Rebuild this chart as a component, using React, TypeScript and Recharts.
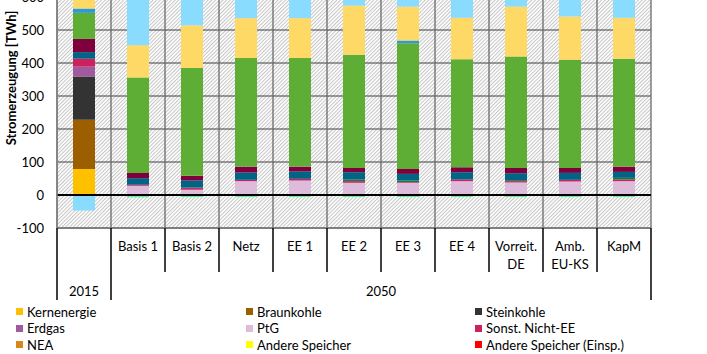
import { BarChart, Bar, XAxis, YAxis, CartesianGrid, ReferenceLine } from "recharts";

// categories (x axis) and the group row underneath
const CATEGORIES = ["", "Basis 1", "Basis 2", "Netz", "EE 1", "EE 2", "EE 3", "EE 4", "Vorreit.\nDE", "Amb.\nEU-KS", "KapM"];
const GROUPS = ["2015", "2050", "2050", "2050", "2050", "2050", "2050", "2050", "2050", "2050", "2050"];
const Y_TICKS = [-100, 0, 100, 200, 300, 400, 500, 600];

// TWh
const KERNENERGIE = [79, 0, 0, 0, 0, 0, 0, 0, 0, 0, 0];
const BRAUNKOHLE = [149, 0, 0, 0, 0, 0, 0, 0, 0, 0, 0];
const STEINKOHLE = [131, 0, 0, 0, 0, 0, 0, 0, 0, 0, 0];
const ERDGAS = [30, 0, 0, 0, 0, 0, 0, 0, 0, 0, 0];
const PTG = [0, 28, 16, 42, 44, 37, 37, 42, 38, 41, 42];
const SONST_NICHT_EE = [24, 3, 5, 4, 5, 5, 2, 5, 4, 5, 5];
const NEA = [0, 0, 0, 0, 0, 0, 0, 0, 0, 0, 0];
const ANDERE_SPEICHER = [0, 0, 0, 0, 0, 0, 0, 0, 0, 0, 0];
const ANDERE_SPEICHER_EINSP = [0, 0, 0, 0, 0, 0, 0, 0, 0, 0, 0];
const PUMPSPEICHER = [0, 0, 2, 0, 0, 5, 5, 0, 3, 0, 5];
const PUMPSPEICHER_EINSP = [0, -7, -6, -6, -6, -6, -6, -6, -6, -6, -6];
const LAUFWASSER = [20, 20, 21, 22, 22, 22, 20, 22, 21, 21, 18];
const BIOMASSE = [40, 16, 14, 18, 15, 13, 15, 15, 16, 15, 16];
const WIND = [79, 289, 327, 329, 329, 343, 381, 327, 338, 328, 327];
const SONST_EE = [13, 0, 0, 0, 0, 0, 8, 0, 0, 0, 0];
const PV = [38, 98, 129, 121, 121, 149, 103, 126, 151, 131, 124];
const NETTOIMPORT = [-47, 170, 110, 90, 90, 50, 50, 90, 50, 80, 90];

const SERIES = [
    { key: "kern", name: "Kernenergie", color: "#FFC000", values: KERNENERGIE },
    { key: "braun", name: "Braunkohle", color: "#9C5F00", values: BRAUNKOHLE },
    { key: "stein", name: "Steinkohle", color: "#333333", values: STEINKOHLE },
    { key: "gas", name: "Erdgas", color: "#A05AA0", values: ERDGAS },
    { key: "ptg", name: "PtG", color: "#DCBCDA", values: PTG },
    { key: "sonstNichtEE", name: "Sonst. Nicht-EE", color: "#CE1F5E", values: SONST_NICHT_EE },
    { key: "nea", name: "NEA", color: "#DB861A", values: NEA },
    { key: "andSp", name: "Andere Speicher", color: "#FFFF00", values: ANDERE_SPEICHER },
    { key: "andSpEinsp", name: "Andere Speicher (Einsp.)", color: "#FF0000", values: ANDERE_SPEICHER_EINSP },
    { key: "pump", name: "Pumpspeicher", color: "#1A7A3A", values: PUMPSPEICHER },
    { key: "pumpEinsp", name: "Pumpspeicher (Einsp.)", color: "#5CF29C", values: PUMPSPEICHER_EINSP },
    { key: "lauf", name: "Laufwasser", color: "#006486", values: LAUFWASSER },
    { key: "bio", name: "Biomasse", color: "#80003E", values: BIOMASSE },
    { key: "wind", name: "Wind", color: "#5EAD35", values: WIND },
    { key: "sonstEE", name: "Sonst. EE", color: "#2C9AD6", values: SONST_EE },
    { key: "pv", name: "PV", color: "#FFD966", values: PV },
    { key: "import", name: "Nettoimport", color: "#8ADCFF", values: NETTOIMPORT },
];

// the picture is cut below the third legend row
const LEGEND_VISIBLE = 9;

const FONT = "Lato, 'Open Sans', sans-serif";
const CHART_W = 707;
const Y_AXIS_W = 57;
const MARGIN_RIGHT = 56;
const PLOT_W = CHART_W - Y_AXIS_W - MARGIN_RIGHT;
const BAND = PLOT_W / CATEGORIES.length;

// group spans for the lower label row
const GROUP_SPANS = GROUPS.reduce((acc: { label: string; start: number; end: number }[], g, i) => {
    const last = acc[acc.length - 1];
    if (last && last.label === g) last.end = i;
    else acc.push({ label: g, start: i, end: i });
    return acc;
}, []);

function CategoryTick(props: any) {
    const { x, y, payload, index } = props;
    const left = x - BAND / 2;
    const lines = String(payload.value).split("\n");
    const groupStarts = GROUP_SPANS.map((s) => s.start);
    const deep = 72;
    const shallow = 44;
    const isLast = index === CATEGORIES.length - 1;
    const span = GROUP_SPANS.find((s) => s.start === index);
    return (
        <g>
            <line x1={left} x2={left} y1={y} y2={y + (groupStarts.includes(index) ? deep : shallow)} stroke="#000" strokeWidth={1.5} />
            {isLast && <line x1={left + BAND} x2={left + BAND} y1={y} y2={y + deep} stroke="#000" strokeWidth={1.5} />}
            {lines.map((l, k) => (
                <text key={k} x={x} y={y + 18.7 + k * 17.3} dy="0.35em" textAnchor="middle" fontSize={13} fill="#000">
                    {l}
                </text>
            ))}
            {span && (
                <text x={left + ((span.end - span.start + 1) * BAND) / 2} y={y + 63.7} dy="0.35em" textAnchor="middle" fontSize={13} fill="#000">
                    {span.label}
                </text>
            )}
        </g>
    );
}

function YLabel() {
    return (
        <text x={11} y={91} transform="rotate(-90 11 91)" textAnchor="middle" dy="0.35em" fontSize={13} fontWeight="bold" fill="#000">
            Stromerzeugung [TWh]
        </text>
    );
}

export default function App() {
    const data = CATEGORIES.map((name, i) => {
        const row: any = { name };
        SERIES.forEach((s) => (row[s.key] = s.values[i]));
        return row;
    });

    return (
        <div style={{ position: "fixed", left: 0, top: 0, width: 707, height: 354, overflow: "hidden", background: "#fff", fontFamily: FONT }}>
            <div style={{ position: "absolute", left: 0, top: -13 }}>
                <BarChart
                    width={CHART_W}
                    height={321}
                    data={data}
                    stackOffset="sign"
                    barSize={22}
                    margin={{ top: 10, right: MARGIN_RIGHT, bottom: 0, left: 0 }}
                >
                    <defs>
                        <pattern id="hatch" width="2.6" height="2.6" patternUnits="userSpaceOnUse" patternTransform="rotate(45)">
                            <rect width="2.6" height="2.6" fill="#fff" />
                            <line x1="0.5" y1="0" x2="0.5" y2="2.6" stroke="#c4c4c4" strokeWidth="1" />
                        </pattern>
                    </defs>
                    <CartesianGrid vertical={false} stroke="#404040" fill="url(#hatch)" fillOpacity={1} />
                    <CartesianGrid
                        horizontal={false}
                        stroke="#6a6a6a"
                        strokeWidth={1.3}
                        verticalCoordinatesGenerator={() => CATEGORIES.map((_, i) => Y_AXIS_W + i * BAND).concat(Y_AXIS_W + PLOT_W)}
                    />
                    <XAxis
                        dataKey="name"
                        interval={0}
                        height={80}
                        tickLine={false}
                        tickSize={0}
                        tickMargin={0}
                        axisLine={{ stroke: "#7f7f7f", strokeWidth: 2 }}
                        tick={<CategoryTick />}
                    />
                    <YAxis
                        width={Y_AXIS_W}
                        domain={[-100, 600]}
                        ticks={Y_TICKS}
                        allowDataOverflow
                        tickLine={false}
                        tickMargin={7}
                        axisLine={{ stroke: "#7f7f7f", strokeWidth: 1.5 }}
                        tick={{ fontSize: 13, fill: "#000" }}
                        label={<YLabel />}
                    />
                    {SERIES.map((s) => (
                        <Bar key={s.key} dataKey={s.key} name={s.name} stackId="a" fill={s.color} isAnimationActive={false} />
                    ))}
                    <ReferenceLine y={0} stroke="#000" strokeWidth={1.8} />
                </BarChart>
            </div>
            <div
                style={{
                    position: "absolute",
                    left: 16,
                    top: 303.5,
                    display: "grid",
                    gridTemplateColumns: "230px 229px 220px",
                    gridAutoRows: "16.5px",
                    fontSize: 13,
                }}
            >
                {SERIES.slice(0, LEGEND_VISIBLE).map((s) => (
                    <div key={s.key} style={{ display: "flex", alignItems: "center", whiteSpace: "nowrap" }}>
                        <span style={{ display: "inline-block", width: 7, height: 7, background: s.color, marginRight: 4 }} />
                        <span>{s.name}</span>
                    </div>
                ))}
            </div>
        </div>
    );
}
